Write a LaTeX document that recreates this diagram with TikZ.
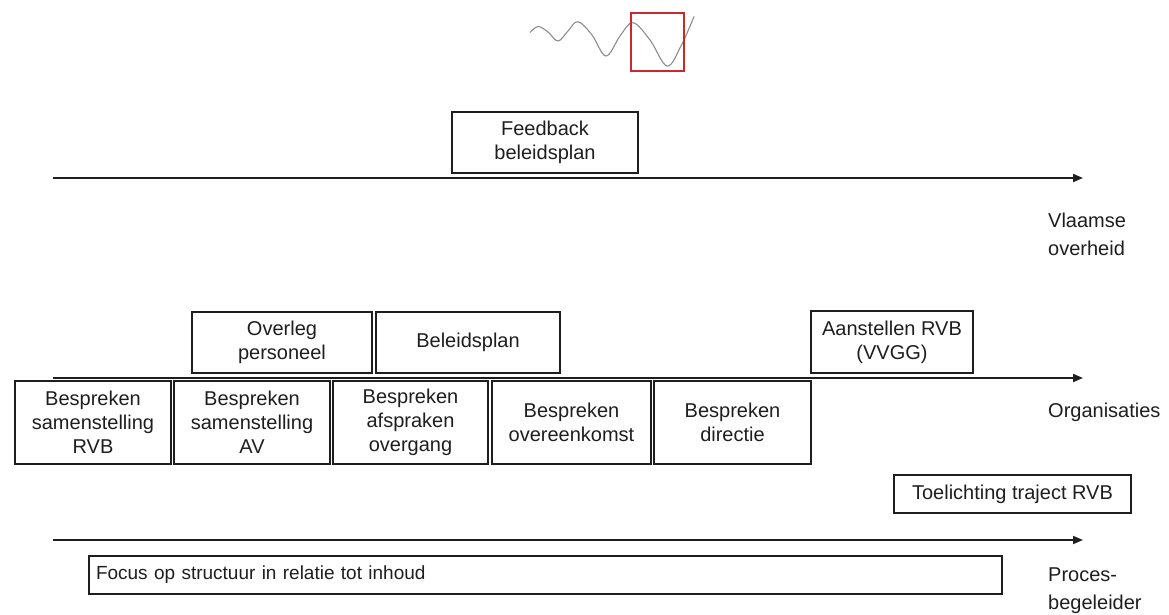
\documentclass[tikz,border=0pt]{standalone}
\usepackage{fontspec}
\setmainfont{Liberation Sans}
\usetikzlibrary{arrows.meta}
\definecolor{ink}{RGB}{30,30,30}
\definecolor{markred}{RGB}{205,40,40}
\definecolor{wavegrey}{RGB}{140,140,140}
\begin{document}
\begin{tikzpicture}[x=1pt,y=-1pt,
  txt/.style={font=\fontsize{20}{24}\selectfont, text=ink},
  box/.style={txt, draw=ink, line width=1.8pt, inner sep=0pt, align=center},
  axis/.style={draw=ink, line width=1.7pt, -{Triangle[length=10pt,width=8pt]}},
  lane/.style={txt, anchor=west, align=left, inner sep=0pt,
    font=\fontsize{20}{28}\selectfont}]
\useasboundingbox (0,0) rectangle (1169,615);

% wave with highlighted window
\draw[wavegrey, line width=1.1pt] plot[smooth, tension=0.6] coordinates
  {(530,32.5) (538,26.5) (548,32) (558,41) (568,31) (578,21.7) (592,35)
   (606,56) (620,36) (633,22.7) (650,40) (667,66) (681,46) (694,16.5)};
\draw[markred, line width=2pt] (631,13) rectangle (684,71);

% Vlaamse overheid
\node[box, minimum width=186pt, minimum height=61pt] (fb) at (545,142.5) {Feedback\\beleidsplan};
\coordinate (a1s) at (53,178);
\coordinate (a1e) at (1083,178);
\draw[axis] (a1s) -- (a1e);
\node[lane] (lvo) at (1048,234) {Vlaamse\\overheid};

% Organisaties
\node[box, minimum width=180pt, minimum height=61pt] (ovl) at (282,342.5) {Overleg\\personeel};
\node[box, minimum width=184pt, minimum height=61pt] (bpl) at (468,342.5) {Beleidsplan};
\node[box, minimum width=162pt, minimum height=62pt] (ans) at (892,342) {Aanstellen RVB\\(VVGG)};
\coordinate (a2s) at (53,378);
\coordinate (a2e) at (1083,378);
\draw[axis] (a2s) -- (a2e);
\node[box, minimum width=156pt, minimum height=83pt] (b1) at (93,422.5) {Bespreken\\samenstelling\\RVB};
\node[box, minimum width=156pt, minimum height=83pt] (b2) at (252,422.5) {Bespreken\\samenstelling\\AV};
\node[box, minimum width=155pt, minimum height=83pt] (b3) at (410.5,422.5) {Bespreken\\afspraken\\overgang};
\node[box, minimum width=159pt, minimum height=83pt] (b4) at (571.5,422.5) {Bespreken\\overeenkomst};
\node[box, minimum width=157pt, minimum height=83pt] (b5) at (732.5,422.5) {Bespreken\\directie};
\node[lane] (lorg) at (1048,412) {Organisaties};

% Procesbegeleider
\node[box, minimum width=237pt, minimum height=38pt] (tl) at (1012.5,494) {Toelichting traject RVB};
\coordinate (a3s) at (53,540);
\coordinate (a3e) at (1083,540);
\draw[axis] (a3s) -- (a3e);
\node[box, minimum width=913pt, minimum height=38pt, text width=899pt, align=left,
  font=\fontsize{19}{23}\selectfont] (fo) at (545.5,575) {Focus op structuur in relatie tot inhoud};
\node[lane] (lpb) at (1048,591) {Proces-\\begeleider};
\end{tikzpicture}
\end{document}
